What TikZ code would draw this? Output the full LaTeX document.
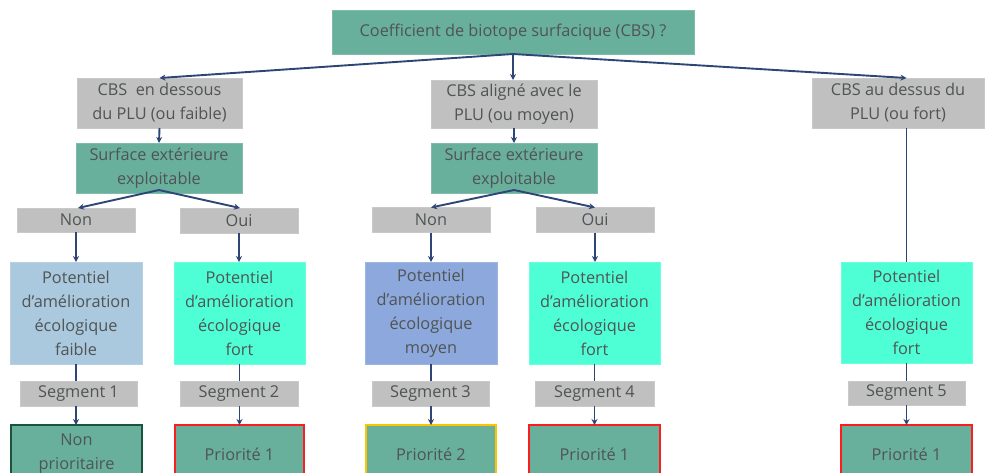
\documentclass[tikz,border=0pt]{standalone}
\usepackage{fontspec}
\setmainfont{Open Sans}
\usetikzlibrary{arrows.meta}
\definecolor{teal1}{RGB}{104,176,156}
\definecolor{gbox}{RGB}{192,192,192}
\definecolor{txt}{RGB}{80,84,84}
\definecolor{pfaible}{RGB}{170,201,222}
\definecolor{pfort}{RGB}{78,255,214}
\definecolor{pmoyen}{RGB}{140,168,220}
\definecolor{navy}{RGB}{45,70,118}
\definecolor{rborder}{RGB}{250,30,30}
\definecolor{yborder}{RGB}{255,196,0}
\definecolor{gborder}{RGB}{25,85,60}
\begin{document}
\begin{tikzpicture}[x=1pt,y=-1pt,
  base/.style={inner sep=0pt, outer sep=0pt, align=center, text=txt, font=\fontsize{16.3}{24}\selectfont},
  greybox/.style={base, fill=gbox, draw=gbox!85!white, line width=0.6pt},
  tealbox/.style={base, fill=teal1, draw=teal1!85!white, line width=0.6pt},
  potbox/.style={base, minimum width=131pt, minimum height=102pt, line width=0.6pt},
  prio/.style={base, fill=teal1, minimum width=132pt, minimum height=58pt, line width=2.2pt},
  conn/.style={navy, line width=1.9pt},
  arr/.style={conn, -{Stealth[length=6pt,width=6pt]}}
]
\useasboundingbox (0,0) rectangle (989,472);
\begin{scope}
\clip (0,0) rectangle (989,472);
% top
\node[tealbox, minimum width=362pt, minimum height=44pt] (top) at (513,32) {Coefficient de biotope surfacique (CBS) ?};
% level 2
\node[greybox, minimum width=165pt, minimum height=50pt] (cbsL) at (159.5,103) {CBS\ \ en dessous\\du PLU (ou faible)};
\node[greybox, minimum width=166pt, minimum height=48pt] (cbsM) at (514,104) {CBS aligné avec le\\PLU (ou moyen)};
\node[greybox, minimum width=172pt, minimum height=50pt] (cbsR) at (898,103) {CBS au dessus du\\PLU (ou fort)};
% surface
\node[tealbox, minimum width=166pt, minimum height=50pt] (surfL) at (159,168) {Surface extérieure\\exploitable};
\node[tealbox, minimum width=166pt, minimum height=50pt] (surfM) at (514,168) {Surface extérieure\\exploitable};
% non / oui
\node[greybox, minimum width=118pt, minimum height=24pt] (nonL) at (76,220) {Non};
\node[greybox, minimum width=118pt, minimum height=25pt] (ouiL) at (239,220.5) {Oui};
\node[greybox, minimum width=118pt, minimum height=25pt] (nonM) at (431,220) {Non};
\node[greybox, minimum width=118pt, minimum height=25pt] (ouiM) at (595,220) {Oui};
% potentiel
\node[potbox, fill=pfaible, draw=pfaible!85!white, minimum width=132pt] (p1) at (76,313) {Potentiel\\d’amélioration\\écologique\\faible};
\node[potbox, fill=pfort, draw=pfort!85!white] (p2) at (239.5,313) {Potentiel\\d’amélioration\\écologique\\fort};
\node[potbox, fill=pmoyen, draw=pmoyen!85!white, minimum width=132pt] (p3) at (431,313) {Potentiel\\d’amélioration\\écologique\\moyen};
\node[potbox, fill=pfort, draw=pfort!85!white] (p4) at (594.5,313) {Potentiel\\d’amélioration\\écologique\\fort};
\node[potbox, fill=pfort, draw=pfort!85!white, minimum height=101pt] (p5) at (906.5,312.5) {Potentiel\\d’amélioration\\écologique\\fort};
% segments
\node[greybox, minimum width=117pt, minimum height=25pt] (s1) at (78.5,393.5) {Segment 1};
\node[greybox, minimum width=118pt, minimum height=25pt] (s2) at (239,393.5) {Segment 2};
\node[greybox, minimum width=117pt, minimum height=25pt] (s3) at (430.5,393.5) {Segment 3};
\node[greybox, minimum width=119pt, minimum height=25pt] (s4) at (594.5,393.5) {Segment 4};
\node[greybox, minimum width=117pt, minimum height=24pt] (s5) at (906.5,393) {Segment 5};
% priorities
\node[prio, draw=gborder, minimum width=131pt] (r1) at (76.5,454) {Non\\prioritaire};
\node[prio, draw=rborder, minimum width=129pt] (r2) at (239.5,454) {Priorité 1};
\node[prio, draw=yborder, minimum width=130pt] (r3) at (431,454) {Priorité 2};
\node[prio, draw=rborder, minimum width=131pt] (r4) at (594.5,454) {Priorité 1};
\node[prio, draw=rborder, minimum width=131pt] (r5) at (906.5,454) {Priorité 1};
% connectors
\draw[arr] (top.south) -- (cbsL.north);
\draw[arr] (top.south) -- (top.south |- cbsM.north);
\draw[arr] (top.south) -- (cbsR.north -| p5.north);
\draw[conn] (cbsR.south -| p5.north) -- (p5.north);
\draw[arr] (cbsL.south) -- (surfL.north);
\draw[arr] (cbsM.south) -- (surfM.north);
\coordinate (fL) at ([yshift=3pt]surfL.south);
\coordinate (fM) at ([yshift=3pt]surfM.south);
\draw[arr] (fL) -- ([xshift=2pt]nonL.north);
\draw[arr] (fL) -- ([xshift=1pt]ouiL.north);
\draw[arr] (fM) -- (nonM.north);
\draw[arr] (fM) -- (ouiM.north);
\draw[arr] (nonL.south) -- (p1.north);
\draw[arr] (ouiL.south) -- (ouiL.south |- p2.north);
\draw[arr] (nonM.south) -- (nonM.south |- p3.north);
\draw[arr] (ouiM.south) -- (ouiM.south |- p4.north);
\draw[conn] (p1.south) -- (p1.south |- s1.north);
\draw[conn] (p2.south) -- (p2.south |- s2.north);
\draw[conn] (p3.south) -- (p3.south |- s3.north);
\draw[conn] (p4.south) -- (p4.south |- s4.north);
\draw[conn] (p5.south) -- (s5.north);
\draw[arr] (s1.south -| p1.south) -- (r1.north -| p1.south);
\draw[arr] (s2.south -| p2.south) -- (r2.north -| p2.south);
\draw[arr] (s3.south -| p3.south) -- (r3.north -| p3.south);
\draw[arr] (s4.south -| p4.south) -- (r4.north -| p4.south);
\draw[arr] (s5.south) -- (r5.north);
\end{scope}
\end{tikzpicture}
\end{document}
